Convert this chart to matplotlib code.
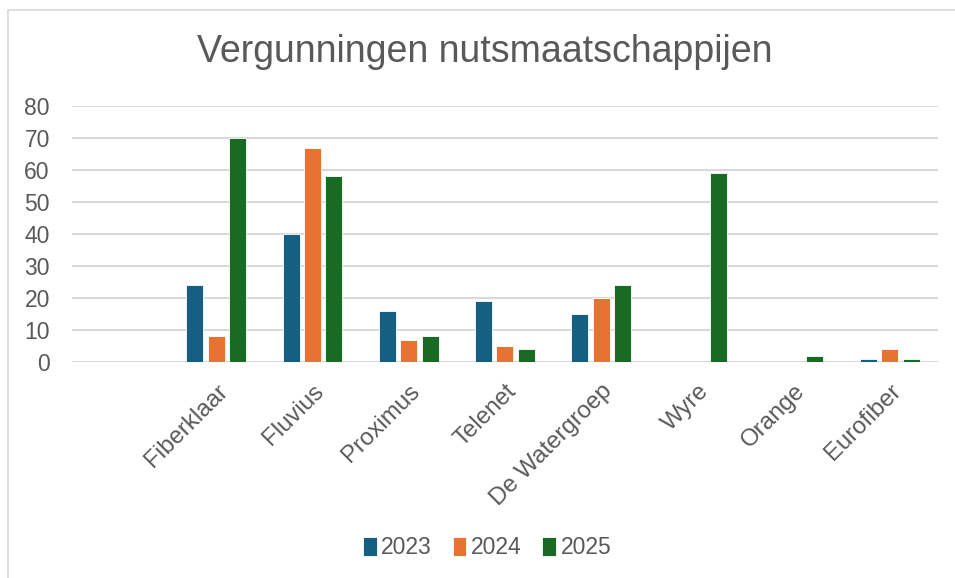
import numpy as np
import matplotlib.pyplot as plt
from matplotlib.patches import Rectangle

plt.rcParams['font.family'] = ['Liberation Sans', 'DejaVu Sans']

# data (first slot is an empty category in the source sheet)
categories = ["", "Fiberklaar", "Fluvius", "Proximus", "Telenet",
              "De Watergroep", "Wyre", "Orange", "Eurofiber"]
years = ["2023", "2024", "2025"]
v2023 = [np.nan, 24, 40, 16, 19, 15, 0, 0, 1]
v2024 = [np.nan, 8, 67, 7, 5, 20, 0, 0, 4]
v2025 = [np.nan, 70, 58, 8, 4, 24, 59, 2, 1]
colors = ["#156082", "#E97132", "#196B24"]

fig = plt.figure(figsize=(9.55, 5.78), dpi=100)
ax = fig.add_axes([0.0754, 0.3737, 0.9066, 0.4429])

# light chart-area border
fig.patches.append(Rectangle((8 / 955, -0.01), 1.0, 1 - 10 / 578 + 0.01,
                             transform=fig.transFigure, fill=False,
                             edgecolor="#d9d9d9", linewidth=1.2))

x = np.arange(len(categories))
w = 0.177
step = 0.222
for i, (vals, c, lab) in enumerate(zip([v2023, v2024, v2025], colors, years)):
    ax.bar(x + (i - 1) * step, vals, width=w, color=c, label=lab,
           edgecolor="white", linewidth=0.6, zorder=3)

ax.set_xlim(-0.5, len(categories) - 0.5)
ax.set_ylim(0, 80)
ax.set_yticks(range(0, 81, 10))
ax.yaxis.grid(True, color="#d9d9d9", linewidth=1.5, zorder=0)
for s in ax.spines.values():
    s.set_visible(False)

ax.set_xticks(x)
ax.set_xticklabels(categories, rotation=45, ha="right",
                   rotation_mode="anchor")
ax.tick_params(axis="x", length=0, pad=13, labelsize=17.3, labelcolor="#595959")
ax.tick_params(axis="y", length=0, pad=16, labelsize=16.5, labelcolor="#595959")

fig.suptitle("Vergunningen nutsmaatschappijen", x=0.508, y=0.91,
             fontsize=27, color="#595959", va="center")

fig.legend(loc="center", bbox_to_anchor=(0.51, 0.052), ncol=3, frameon=False,
           fontsize=16.5, labelcolor="#595959", handlelength=0.6,
           handleheight=0.9, handletextpad=0.2, columnspacing=0.9)

fig.savefig("out.png", dpi=100)
